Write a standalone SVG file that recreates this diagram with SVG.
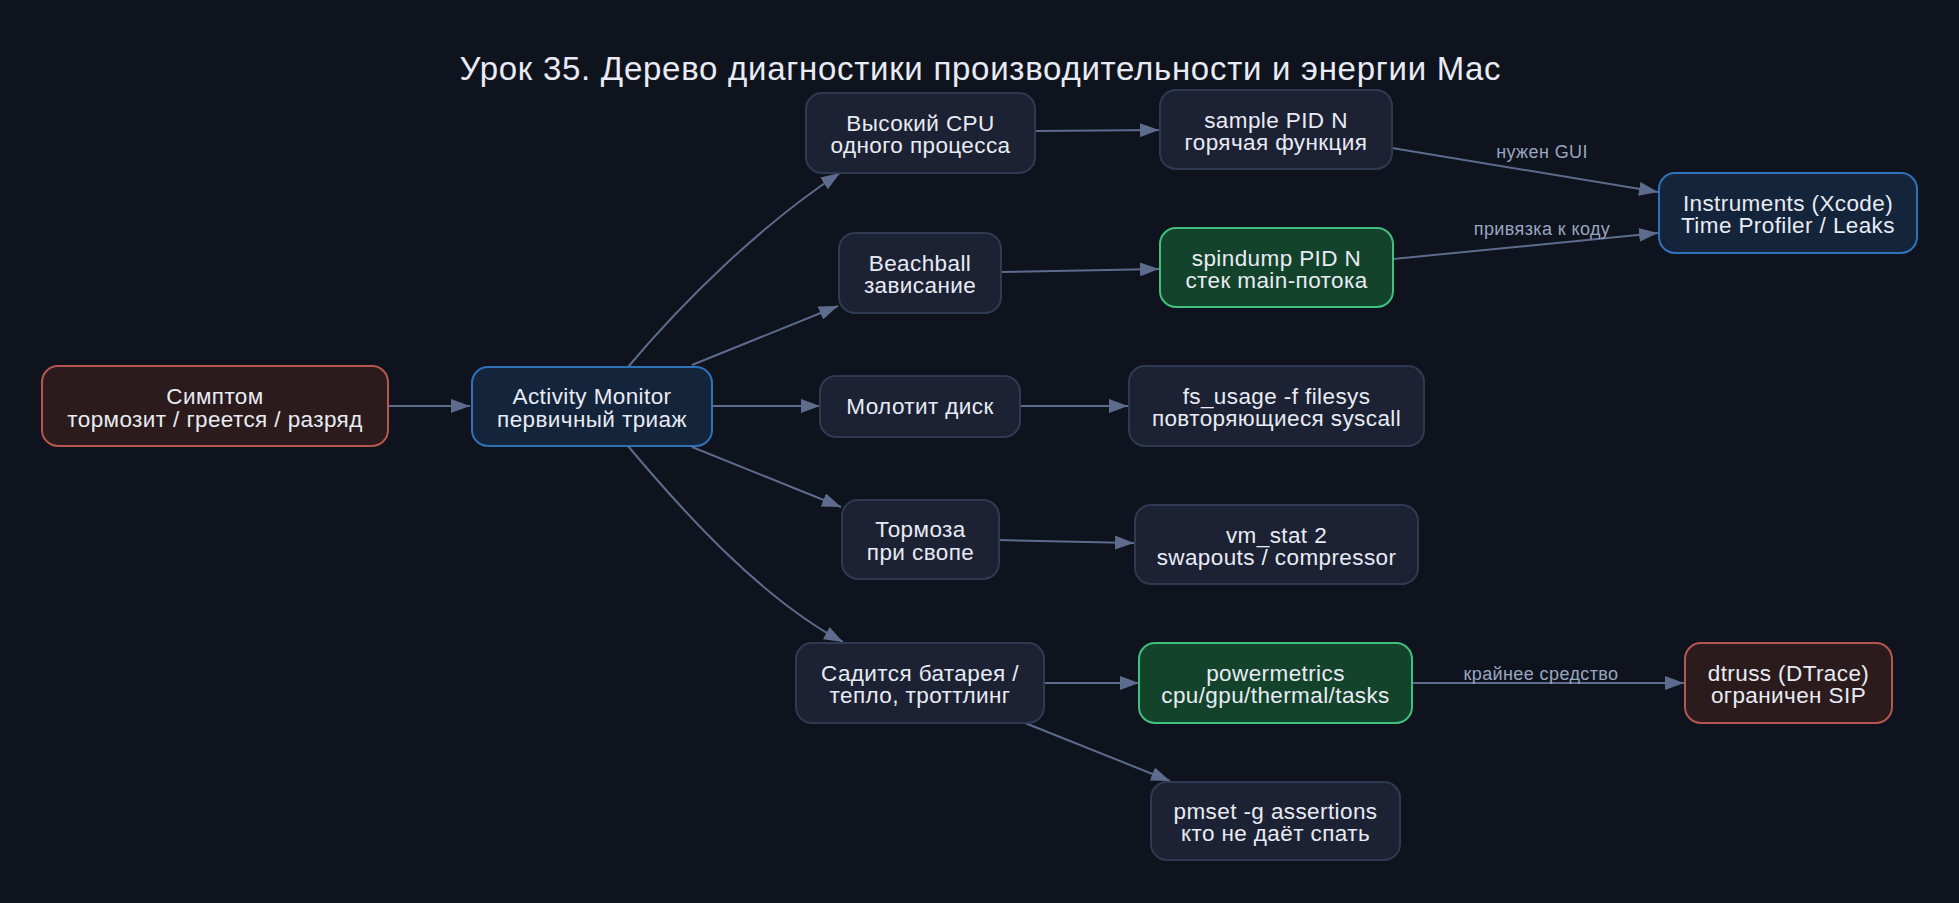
<svg xmlns="http://www.w3.org/2000/svg" width="1959" height="903" viewBox="0 0 1959 903">
<style>
.bg{fill:#0f131e}
.title{font-family:"Liberation Sans",Arial,sans-serif;font-size:33px;fill:#e8ebf3;text-anchor:middle}
.n rect{fill:#1c2233;stroke:#2f3a52;stroke-width:2}
.n.red rect{fill:#2b1b1c;stroke:#b5574f}
.n.blue rect{fill:#14243a;stroke:#2f72b8}
.n.green rect{fill:#14432c;stroke:#40c07f}
.n text{font-family:"Liberation Sans",Arial,sans-serif;font-size:22.5px;letter-spacing:0.4px;fill:#e8ebf3;text-anchor:middle}
.e path{fill:none;stroke:#5d6c8c;stroke-width:2}
.lbl{font-family:"Liberation Sans",Arial,sans-serif;font-size:18px;letter-spacing:0.4px;fill:#9aa6c0;text-anchor:middle}
</style>
<defs>
<marker id="ah" markerUnits="userSpaceOnUse" markerWidth="20" markerHeight="14" refX="19" refY="7" orient="auto">
<path d="M0,0 L19,7 L0,14 z" fill="#5d6c8c"/>
</marker>
</defs>
<rect class="bg" x="0" y="0" width="1959" height="903"/>
<text class="title" x="980" y="80" textLength="1041" lengthAdjust="spacing">Урок 35. Дерево диагностики производительности и энергии Mac</text>

<g id="connectors" class="e">
<path d="M388,406 L470,406" marker-end="url(#ah)"/>
<path d="M628,367 C680,305 760,225 840,173" marker-end="url(#ah)"/>
<path d="M692,365 L838,306" marker-end="url(#ah)"/>
<path d="M712,406 L820,406" marker-end="url(#ah)"/>
<path d="M692,447 L841,507" marker-end="url(#ah)"/>
<path d="M628,446 C680,508 760,598 843,642" marker-end="url(#ah)"/>
<path d="M1035,131 L1159,130" marker-end="url(#ah)"/>
<path d="M1001,272 L1159,269" marker-end="url(#ah)"/>
<path d="M1020,406 L1128,406" marker-end="url(#ah)"/>
<path d="M999,540 L1134,543" marker-end="url(#ah)"/>
<path d="M1044,683 L1139,683" marker-end="url(#ah)"/>
<path d="M1025,723 L1170,781" marker-end="url(#ah)"/>
<path d="M1392,148 L1658,192" marker-end="url(#ah)"/>
<path d="M1393,259 L1658,233" marker-end="url(#ah)"/>
<path d="M1413,683 L1684,683" marker-end="url(#ah)"/>
<text class="lbl" x="1542" y="158">нужен GUI</text>
<text class="lbl" x="1542" y="235">привязка к коду</text>
<text class="lbl" x="1541" y="680">крайнее средство</text>
</g>

<g id="symptom" class="n red"><rect x="42" y="366" width="346" height="80" rx="16"/><text x="215" y="404">Симптом</text><text x="215" y="427">тормозит / греется / разряд</text></g>
<g id="activity" class="n blue"><rect x="472" y="367" width="240" height="79" rx="16"/><text x="592" y="404">Activity Monitor</text><text x="592" y="427">первичный триаж</text></g>
<g id="cpu" class="n"><rect x="806" y="93" width="229" height="80" rx="16"/><text x="920.5" y="131">Высокий CPU</text><text x="920.5" y="153">одного процесса</text></g>
<g id="beachball" class="n"><rect x="839" y="233" width="162" height="80" rx="16"/><text x="920" y="271">Beachball</text><text x="920" y="293">зависание</text></g>
<g id="disk" class="n"><rect x="820" y="376" width="200" height="61" rx="16"/><text x="920" y="414">Молотит диск</text></g>
<g id="swap" class="n"><rect x="842" y="500" width="157" height="79" rx="16"/><text x="920.5" y="537">Тормоза</text><text x="920.5" y="560">при свопе</text></g>
<g id="battery" class="n"><rect x="796" y="643" width="248" height="80" rx="16"/><text x="920" y="681">Садится батарея /</text><text x="920" y="703">тепло, троттлинг</text></g>
<g id="sample" class="n"><rect x="1160" y="90" width="232" height="79" rx="16"/><text x="1276" y="128">sample PID N</text><text x="1276" y="150">горячая функция</text></g>
<g id="spindump" class="n green"><rect x="1160" y="228" width="233" height="79" rx="16"/><text x="1276.5" y="266">spindump PID N</text><text x="1276.5" y="288">стек main-потока</text></g>
<g id="instruments" class="n blue"><rect x="1659" y="173" width="258" height="80" rx="16"/><text x="1788" y="211">Instruments (Xcode)</text><text x="1788" y="233">Time Profiler / Leaks</text></g>
<g id="fsusage" class="n"><rect x="1129" y="366" width="295" height="80" rx="16"/><text x="1276.5" y="404">fs_usage -f filesys</text><text x="1276.5" y="426">повторяющиеся syscall</text></g>
<g id="vmstat" class="n"><rect x="1135" y="505" width="283" height="79" rx="16"/><text x="1276.5" y="543">vm_stat 2</text><text x="1276.5" y="565">swapouts / compressor</text></g>
<g id="powermetrics" class="n green"><rect x="1139" y="643" width="273" height="80" rx="16"/><text x="1275.5" y="681">powermetrics</text><text x="1275.5" y="703">cpu/gpu/thermal/tasks</text></g>
<g id="pmset" class="n"><rect x="1151" y="782" width="249" height="78" rx="16"/><text x="1275.5" y="819">pmset -g assertions</text><text x="1275.5" y="841">кто не даёт спать</text></g>
<g id="dtruss" class="n red"><rect x="1685" y="643" width="207" height="80" rx="16"/><text x="1788.5" y="681">dtruss (DTrace)</text><text x="1788.5" y="703">ограничен SIP</text></g>
</svg>
